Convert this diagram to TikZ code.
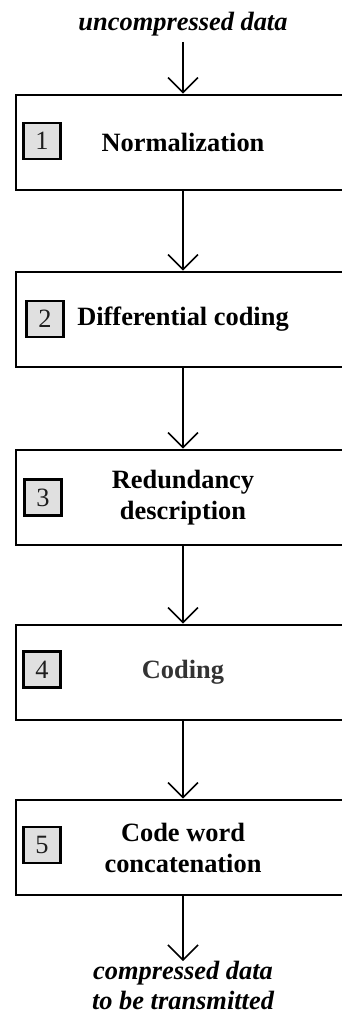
\documentclass[tikz,border=0pt]{standalone}
\usepackage{fontspec}
\setmainfont{Liberation Serif}
\usetikzlibrary{arrows.meta}
\definecolor{badgefill}{RGB}{224,224,224}
\definecolor{darktext}{RGB}{51,51,51}
\definecolor{digittext}{RGB}{30,30,30}
\begin{document}
\begin{tikzpicture}[x=1pt,y=-1pt,
  stage/.style={draw, line width=2.8pt, minimum width=334pt, minimum height=95pt,
    inner sep=0pt, align=center, font=\fontsize{26.4}{31}\selectfont\bfseries},
  badge/.style={draw, line width=2.2pt, fill=badgefill, minimum width=37pt,
    minimum height=36pt, inner sep=0pt, font=\fontsize{26.4}{31}\selectfont, text=digittext},
  flow/.style={line width=1.5pt, -{Straight Barb[length=15pt,width=30pt,line width=1.5pt]}},
  io/.style={font=\fontsize{26.4}{30}\selectfont\bfseries\itshape, align=center, inner sep=0pt}]
\useasboundingbox (0,0) rectangle (342,1016);
\clip (0,0) rectangle (342,1016);

\node[io, anchor=base] (in) at (183,31) {uncompressed data};

\node[stage] (s1) at (183,142.5) {Normalization};
\node[stage] (s2) at (183,319.5) {Differential coding};
\node[stage] (s3) at (183,497.5) {Redundancy\\description};
\node[stage, text=darktext] (s4) at (183,672.5) {Coding};
\node[stage] (s5) at (183,847.5) {Code word\\concatenation};

\node[badge] (b1) at (42,141) {1};
\node[badge] (b2) at (45,319) {2};
\node[badge] (b3) at (43,497.5) {3};
\node[badge] (b4) at (42,669.5) {4};
\node[badge] (b5) at (42,845) {5};

\node[io, anchor=north] (out) at (183,961) {compressed data\\to be transmitted};

\draw[flow, shorten <=5pt] (in.south) -- (s1.north);
\draw[flow] (s1.south) -- (s2.north);
\draw[flow] (s2.south) -- (s3.north);
\draw[flow] (s3.south) -- (s4.north);
\draw[flow] (s4.south) -- (s5.north);
\draw[flow] (s5.south) -- (s5.south |- out.north);
\end{tikzpicture}
\end{document}
